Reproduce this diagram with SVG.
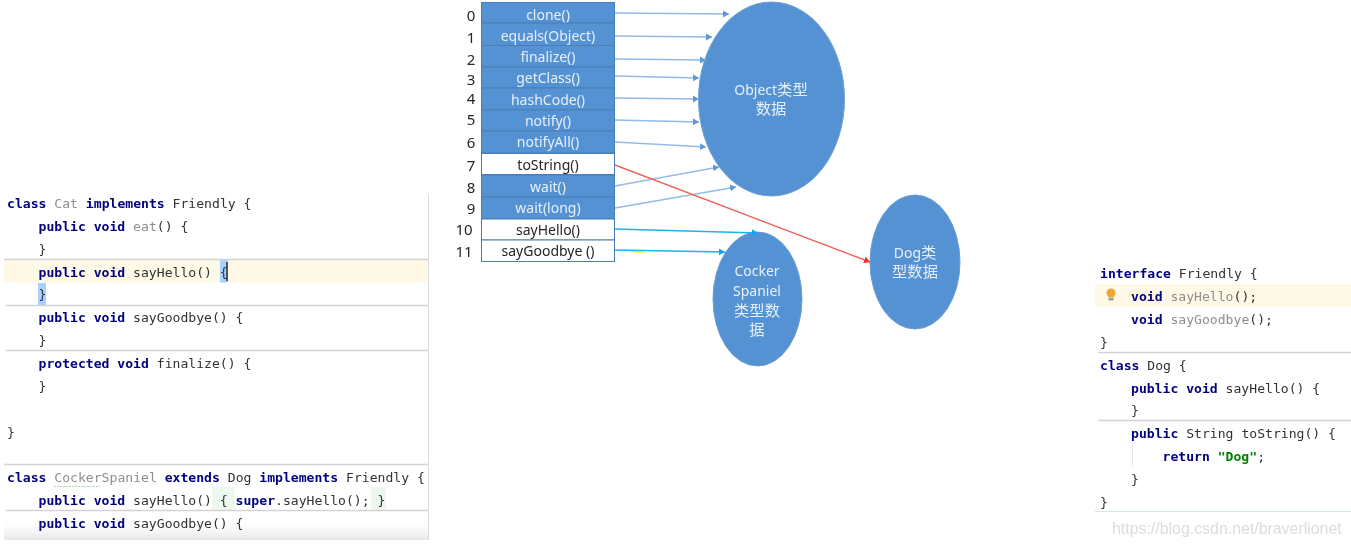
<svg xmlns="http://www.w3.org/2000/svg" width="1351" height="546" viewBox="0 0 1351 546">
<style>
text{white-space:pre}
.c{font-family:"DejaVu Sans Mono",monospace;font-size:13.1px;fill:#333}
.k{font-weight:bold;fill:#000080}
.g{fill:#8f8f8f}
.s{font-weight:bold;fill:#008000}
.sep{stroke:#d4d4d4;stroke-width:1.5;fill:none}
.cell{stroke:#4a7fb5;stroke-width:1}
.f{fill:#5592d4}
.w{fill:#fff}
.t{font-family:"Noto Sans","Noto Sans CJK SC",sans-serif;font-size:14px;text-anchor:middle}
.cj{font-size:15.300px}
.lt{fill:#e6f0fa}
.dk{fill:#262626}
.i{font-family:"Noto Sans",sans-serif;font-size:15px;text-anchor:middle;fill:#262626}
.e{fill:#5592d4;stroke:#6f9fd0;stroke-width:1}
.l{fill:none;stroke-width:1.4}
.b{stroke:#93bbe6;marker-end:url(#mb)}
.y{stroke:#20b0ee;marker-end:url(#my)}
.r{stroke:#f0645a;marker-end:url(#mr)}
</style>
<defs>
<marker id="mb" markerUnits="userSpaceOnUse" markerWidth="8" markerHeight="8" refX="6" refY="3.500" orient="auto"><path d="M0 0L6 3.500L0 7z" fill="#5b9bd5"/></marker>
<marker id="my" markerUnits="userSpaceOnUse" markerWidth="8" markerHeight="8" refX="6" refY="3.500" orient="auto"><path d="M0 0L6 3.500L0 7z" fill="#10a8ec"/></marker>
<marker id="mr" markerUnits="userSpaceOnUse" markerWidth="8" markerHeight="8" refX="6" refY="3.500" orient="auto"><path d="M0 0L6 3.500L0 7z" fill="#f03030"/></marker>
<linearGradient id="fade" x1="0" y1="0" x2="0" y2="1"><stop offset="0" stop-color="#fff" stop-opacity="0"/><stop offset="1" stop-color="#e6e6e6"/></linearGradient>
<filter id="soft" x="-2%" y="-2%" width="104%" height="104%"><feGaussianBlur stdDeviation="0.35"/></filter>
</defs>
<rect width="1351" height="546" fill="#fff"/>
<g filter="url(#soft)">
<g id="code-left">
<path d="M428.500 195V540" stroke="#dcdcdc" stroke-width="1" fill="none"/>
<rect x="4" y="260" width="424" height="22.500" fill="#fef8e6"/>
<rect x="220" y="260" width="8" height="22.500" fill="#a6d2ff"/>
<rect x="38" y="283" width="8" height="22" fill="#a6d2ff"/>
<rect x="212" y="487" width="23" height="23" fill="#edf8ee"/>
<rect x="371" y="487" width="15" height="23" fill="#edf8ee"/>
<rect x="4" y="518" width="424" height="22" fill="url(#fade)"/>
<path class="sep" d="M4 259.500H428M6 305.500H428M6 350.500H428M4 464.500H428M6 510.500H428"/>
<path d="M227 262V281" stroke="#111" stroke-width="1.300"/>
<path d="M54 486.500H100" stroke="#b5d5b5" stroke-width="1" stroke-dasharray="2 1"/>
<text class="c" x="7" y="208"><tspan class="k">class</tspan> <tspan class="g">Cat</tspan> <tspan class="k">implements</tspan> Friendly {</text>
<text class="c" x="38.500" y="231"><tspan class="k">public void</tspan> <tspan class="g">eat</tspan>() {</text>
<text class="c" x="38.500" y="254">}</text>
<text class="c" x="38.500" y="277"><tspan class="k">public void</tspan> sayHello() {</text>
<text class="c" x="38.500" y="299">}</text>
<text class="c" x="38.500" y="322"><tspan class="k">public void</tspan> sayGoodbye() {</text>
<text class="c" x="38.500" y="345">}</text>
<text class="c" x="38.500" y="368"><tspan class="k">protected void</tspan> finalize() {</text>
<text class="c" x="38.500" y="391">}</text>
<text class="c" x="7" y="437">}</text>
<text class="c" x="7" y="482"><tspan class="k">class</tspan> <tspan class="g">CockerSpaniel</tspan> <tspan class="k">extends</tspan> Dog <tspan class="k">implements</tspan> Friendly {</text>
<text class="c" x="38.500" y="505"><tspan class="k">public void</tspan> sayHello() { <tspan class="k">super</tspan>.sayHello(); }</text>
<text class="c" x="38.500" y="528"><tspan class="k">public void</tspan> sayGoodbye() {</text>
</g>
<g id="code-right">
<rect x="1095" y="284" width="256" height="23" fill="#fef8e6"/>
<path d="M1106.500 293a4.500 4.500 0 1 1 9 0c0 2-1.500 3-2 4.500h-5c-.5-1.500-2-2.500-2-4.500z" fill="#f0a732"/>
<rect x="1108.500" y="298" width="5" height="2.500" fill="#9a9a9a"/>
<path class="sep" d="M1098 352.500H1351M1098 420.500H1351"/>
<path d="M1095 511.500H1351" stroke="#d5e3f5" stroke-width="1" fill="none"/>
<path d="M1132.500 444V467" stroke="#e4e4e4" stroke-width="1" fill="none"/>
<text class="c" x="1100" y="278"><tspan class="k">interface</tspan> Friendly {</text>
<text class="c" x="1131" y="301"><tspan class="k">void</tspan> <tspan class="g">sayHello</tspan>();</text>
<text class="c" x="1131" y="324"><tspan class="k">void</tspan> <tspan class="g">sayGoodbye</tspan>();</text>
<text class="c" x="1100" y="347">}</text>
<text class="c" x="1100" y="370"><tspan class="k">class</tspan> Dog {</text>
<text class="c" x="1131" y="393"><tspan class="k">public void</tspan> sayHello() {</text>
<text class="c" x="1131" y="415">}</text>
<text class="c" x="1131" y="438"><tspan class="k">public</tspan> String toString() {</text>
<text class="c" x="1162.500" y="461"><tspan class="k">return</tspan> <tspan class="s">"Dog"</tspan>;</text>
<text class="c" x="1131" y="484">}</text>
<text class="c" x="1100" y="507">}</text>
<text x="1112" y="534" font-family="Liberation Sans, Arial, sans-serif" font-size="15.900" fill="#dcdcdc">https://blog.csdn.net/braverlionet</text>
</g>
<g id="method-table">
<g id="row-0"><rect class="cell f" x="481.500" y="2.500" width="133" height="20.500"/><text class="t lt" x="548" y="19.500">clone()</text><text class="i" x="471" y="20.500">0</text></g>
<g id="row-1"><rect class="cell f" x="481.500" y="23" width="133" height="22.500"/><text class="t lt" x="548" y="40.500">equals(Object)</text><text class="i" x="471" y="43">1</text></g>
<g id="row-2"><rect class="cell f" x="481.500" y="45.500" width="133" height="21.500"/><text class="t lt" x="548" y="62">finalize()</text><text class="i" x="471" y="65">2</text></g>
<g id="row-3"><rect class="cell f" x="481.500" y="67" width="133" height="21"/><text class="t lt" x="548" y="83">getClass()</text><text class="i" x="471" y="85">3</text></g>
<g id="row-4"><rect class="cell f" x="481.500" y="88" width="133" height="22"/><text class="t lt" x="548" y="104.500">hashCode()</text><text class="i" x="471" y="104">4</text></g>
<g id="row-5"><rect class="cell f" x="481.500" y="110" width="133" height="21"/><text class="t lt" x="548" y="126">notify()</text><text class="i" x="471" y="125">5</text></g>
<g id="row-6"><rect class="cell f" x="481.500" y="131" width="133" height="22"/><text class="t lt" x="548" y="147">notifyAll()</text><text class="i" x="471" y="148">6</text></g>
<g id="row-7"><rect class="cell w" x="481.500" y="153.500" width="133" height="21"/><text class="t dk" x="548" y="170">toString()</text><text class="i" x="471" y="171">7</text></g>
<g id="row-8"><rect class="cell f" x="481.500" y="175" width="133" height="22"/><text class="t lt" x="548" y="191.500">wait()</text><text class="i" x="471" y="193">8</text></g>
<g id="row-9"><rect class="cell f" x="481.500" y="197" width="133" height="22"/><text class="t lt" x="548" y="213">wait(long)</text><text class="i" x="471" y="214">9</text></g>
<g id="row-10"><rect class="cell w" x="481.500" y="219" width="133" height="21"/><text class="t dk" x="548" y="234.500">sayHello()</text><text class="i" x="464" y="235">10</text></g>
<g id="row-11"><rect class="cell w" x="481.500" y="240" width="133" height="21.500"/><text class="t dk" x="548" y="256">sayGoodbye ()</text><text class="i" x="464" y="257">11</text></g>
</g>
<g id="object-data"><ellipse class="e" cx="771.500" cy="99" rx="73" ry="97"/><text class="t lt" x="771" y="95">Object<tspan class="cj">类型</tspan></text><text class="t lt cj" x="771" y="114">数据</text></g>
<g id="dog-data"><ellipse class="e" cx="915" cy="262" rx="45" ry="67"/><text class="t lt" x="915" y="258">Dog<tspan class="cj">类</tspan></text><text class="t lt cj" x="915" y="277">型数据</text></g>
<g id="cocker-data"><ellipse class="e" cx="757.500" cy="299" rx="44.500" ry="67"/><text class="t lt" x="757" y="276">Cocker</text><text class="t lt" x="757" y="296">Spaniel</text><text class="t lt cj" x="757" y="316">类型数</text><text class="t lt cj" x="757" y="335">据</text></g>
<g id="connectors">
<path class="l b" d="M615 13L729 14"/>
<path class="l b" d="M615 36L712 37"/>
<path class="l b" d="M615 59L706 60"/>
<path class="l b" d="M615 76L699 78"/>
<path class="l b" d="M615 98L699 99"/>
<path class="l b" d="M615 120L699 122"/>
<path class="l b" d="M615 142L706 147"/>
<path class="l b" d="M615 186L719 167"/>
<path class="l b" d="M615 208L736 187"/>
<path class="l y" d="M615 229L758 233"/>
<path class="l y" d="M615 250L725 252"/>
<path class="l r" d="M615 165L870 262"/>
<path d="M629 252.500Q638 249 646 252.500z" fill="#e8e020"/>
</g>
</g>
</svg>
